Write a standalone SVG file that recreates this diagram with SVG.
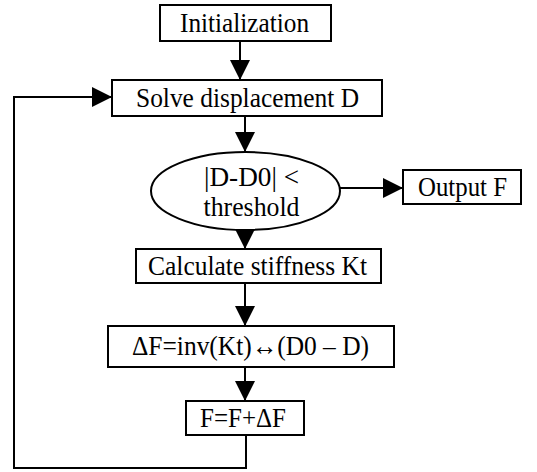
<svg xmlns="http://www.w3.org/2000/svg" width="537" height="472" viewBox="0 0 537 472">
<defs>
<marker id="ah" markerWidth="20" markerHeight="20" refX="20" refY="10" orient="auto" markerUnits="userSpaceOnUse">
<path d="M0,0 L20,10 L0,20 Z" fill="#000"/>
</marker>
<style>
.box{fill:#fff;stroke:#000;stroke-width:2}
.ln{fill:none;stroke:#000;stroke-width:2}
text{font-family:"Liberation Serif","Times New Roman",serif;font-size:27px;fill:#000}
</style>
</defs>
<rect width="537" height="472" fill="#fff"/>
<g id="connectors">
<path class="ln" d="M240,41 V80" marker-end="url(#ah)"/>
<path class="ln" d="M245,116 V152" marker-end="url(#ah)"/>
<path class="ln" d="M340,188 H403" marker-end="url(#ah)"/>
<path class="ln" d="M245,230 V249" marker-end="url(#ah)"/>
<path class="ln" d="M245,283 V326" marker-end="url(#ah)"/>
<path class="ln" d="M245,367 V401" marker-end="url(#ah)"/>
<path class="ln" d="M246,435 V468 H14 V97 H112" marker-end="url(#ah)"/>
</g>
<g id="init">
<rect class="box" x="160" y="5" width="171" height="36"/>
<text x="180" y="31.5" textLength="129" lengthAdjust="spacingAndGlyphs">Initialization</text>
</g>
<g id="solve">
<rect class="box" x="112" y="80" width="270" height="36"/>
<text x="136" y="106.5" textLength="223" lengthAdjust="spacingAndGlyphs">Solve displacement D</text>
</g>
<g id="check">
<ellipse class="box" cx="245.5" cy="191" rx="94.5" ry="39"/>
<text x="204" y="186" textLength="95" lengthAdjust="spacingAndGlyphs">|D-D0| &lt;</text>
<text x="203.5" y="216" textLength="96" lengthAdjust="spacingAndGlyphs">threshold</text>
</g>
<g id="output">
<rect class="box" x="403" y="170" width="118" height="34"/>
<text x="418" y="195.5" textLength="89" lengthAdjust="spacingAndGlyphs">Output F</text>
</g>
<g id="calc">
<rect class="box" x="136" y="249" width="245" height="34"/>
<text x="148" y="274.5" textLength="219" lengthAdjust="spacingAndGlyphs">Calculate stiffness Kt</text>
</g>
<g id="deltaF">
<rect class="box" x="108" y="326" width="286" height="41"/>
<text x="132" y="355" textLength="237" lengthAdjust="spacingAndGlyphs">ΔF=inv(Kt)↔(D0 – D)</text>
</g>
<g id="update">
<rect class="box" x="186" y="401" width="118" height="34"/>
<text x="200" y="426.5" textLength="86" lengthAdjust="spacingAndGlyphs">F=F+ΔF</text>
</g>
</svg>
